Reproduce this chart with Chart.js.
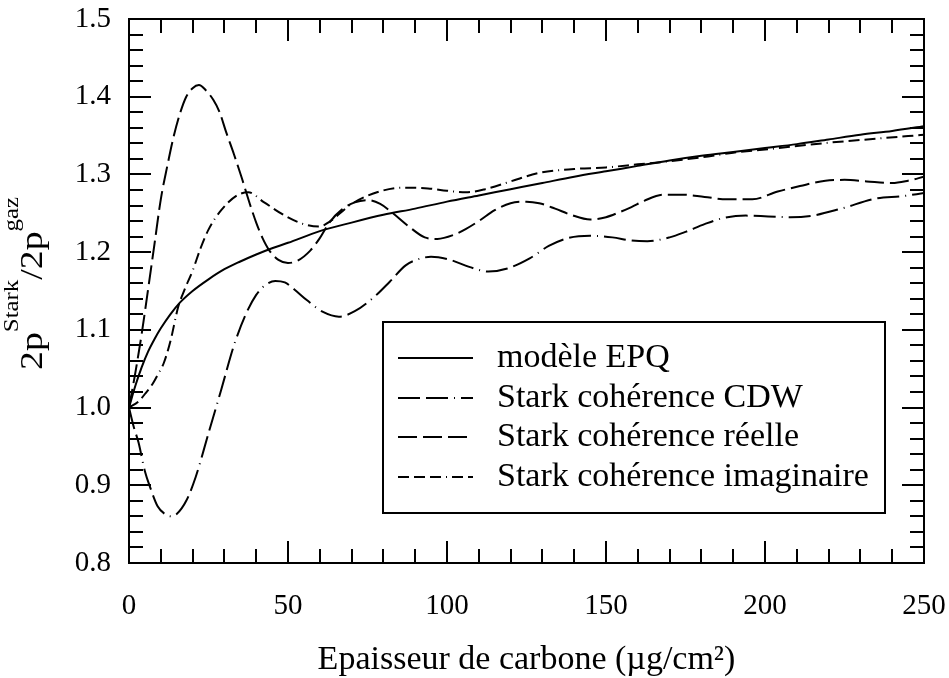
<!DOCTYPE html>
<html>
<head>
<meta charset="utf-8">
<title>2p Stark / 2p gaz</title>
<script src="https://cdn.jsdelivr.net/npm/chart.js@4.4.0/dist/chart.umd.min.js"></script>
<style>
  html, body { margin: 0; padding: 0; background: #fff; }
  canvas { display: block; }
</style>
</head>
<body>
<canvas id="starkChart" width="949" height="678"></canvas>
<script>
const serif = "'Liberation Serif', 'Times New Roman', serif";

// modèle EPQ
const epqX = [0, 2, 4, 6, 8, 10, 13, 16, 20, 25, 30, 35, 40, 45, 50, 60, 70, 80, 90, 100,
  110, 120, 130, 140, 150, 160, 170, 180, 190, 200, 210, 220, 230, 240, 250];
const epqY = [1.000, 1.028, 1.052, 1.072, 1.088, 1.102, 1.120, 1.135, 1.150, 1.165, 1.178, 1.188, 1.197, 1.205, 1.212, 1.227, 1.238, 1.248, 1.256, 1.265,
  1.273, 1.281, 1.289, 1.297, 1.304, 1.311, 1.318, 1.324, 1.329, 1.334, 1.339, 1.345, 1.351, 1.356, 1.362];

// Stark cohérence CDW
const cdwX = [0, 1.5, 3, 5, 6.6, 9, 11.3, 13.2, 15, 18, 21, 25, 29, 33, 36.5, 40, 43, 46, 49, 52,
  56, 61, 66, 71, 77, 82, 87, 91, 95, 101, 107, 113, 119, 126, 132, 138, 145, 152, 158, 163,
  170, 175, 181, 187, 194, 201, 208, 215, 224, 235, 243, 250];
const cdwY = [1.000, 0.975, 0.955, 0.918, 0.898, 0.873, 0.863, 0.860, 0.863, 0.880, 0.911, 0.967, 1.023, 1.080, 1.118, 1.145, 1.158, 1.163, 1.161, 1.152,
  1.138, 1.123, 1.117, 1.124, 1.142, 1.162, 1.183, 1.191, 1.194, 1.190, 1.181, 1.175, 1.179, 1.192, 1.208, 1.218, 1.221, 1.219, 1.215, 1.214,
  1.219, 1.226, 1.236, 1.244, 1.247, 1.246, 1.245, 1.247, 1.256, 1.269, 1.272, 1.276];

// Stark cohérence réelle
const reelX = [0, 2, 4, 6, 8, 10, 12, 14, 16, 18, 20, 22, 24, 26.5, 28.5, 30.5, 33, 35.5, 38, 40,
  42, 44, 47, 50, 53, 57, 60, 63, 67, 71, 75, 79, 83, 88, 93, 97, 102, 106, 110, 115,
  120, 125, 129, 134, 139, 145, 150, 154, 158, 162, 168, 174, 181, 188, 196, 204, 211, 219, 225, 232,
  240, 245, 250];
const reelY = [1.000, 1.045, 1.095, 1.152, 1.210, 1.268, 1.310, 1.348, 1.378, 1.400, 1.411, 1.415, 1.409, 1.396, 1.380, 1.355, 1.326, 1.295, 1.262, 1.238,
  1.218, 1.203, 1.190, 1.186, 1.189, 1.202, 1.218, 1.238, 1.255, 1.264, 1.267, 1.262, 1.250, 1.233, 1.219, 1.217, 1.222, 1.230, 1.240, 1.254,
  1.263, 1.265, 1.263, 1.256, 1.248, 1.242, 1.245, 1.251, 1.258, 1.266, 1.274, 1.274, 1.271, 1.268, 1.268, 1.278, 1.285, 1.292, 1.293, 1.291,
  1.289, 1.292, 1.297];

// Stark cohérence imaginaire
const imagX = [0, 3, 5.5, 7.5, 9, 11, 13, 15.5, 17.5, 20, 22.5, 25, 29, 34, 37.5, 42.5, 49, 55, 60, 63,
  70, 78, 86, 94, 100, 106, 112, 120, 129, 140, 150, 160, 170, 180, 190, 200, 218, 235, 250];
const imagY = [1.000, 1.008, 1.020, 1.031, 1.042, 1.058, 1.085, 1.130, 1.152, 1.176, 1.205, 1.229, 1.254, 1.273, 1.277, 1.264, 1.247, 1.236, 1.233, 1.239,
  1.262, 1.277, 1.283, 1.282, 1.279, 1.277, 1.281, 1.291, 1.302, 1.307, 1.309, 1.313, 1.317, 1.322, 1.328, 1.332, 1.340, 1.346, 1.351];

const xTicks = [0, 50, 100, 150, 200, 250];
const yTicks = [0.8, 0.9, 1.0, 1.1, 1.2, 1.3, 1.4, 1.5];

const toPoints = (xs, ys) => xs.map((x, i) => ({ x: x, y: ys[i] }));

function series(label, xs, ys, dash) {
  return {
    label: label,
    data: toPoints(xs, ys),
    borderColor: '#000',
    borderWidth: 2,
    borderDash: dash,
    borderCapStyle: 'butt',
    pointRadius: 0,
    fill: false,
    cubicInterpolationMode: 'monotone'
  };
}

// inward ticks on all four sides plus the frame
const frameTicks = {
  id: 'frameTicks',
  afterDatasetsDraw(chart) {
    const { ctx, chartArea: a, scales: { x, y } } = chart;
    ctx.save();
    ctx.strokeStyle = '#000';
    ctx.lineWidth = 2;
    ctx.setLineDash([]);
    ctx.beginPath();
    for (let v = 0; v <= 250; v += 10) {
      const px = Math.round(x.getPixelForValue(v));
      const len = v % 50 === 0 ? 22 : 14;
      ctx.moveTo(px, a.bottom); ctx.lineTo(px, a.bottom - len);
      ctx.moveTo(px, a.top); ctx.lineTo(px, a.top + len);
    }
    for (let i = 0; i <= 35; i++) {
      const py = Math.round(y.getPixelForValue(0.8 + i * 0.02));
      const len = i % 5 === 0 ? 22 : 14;
      ctx.moveTo(a.left, py); ctx.lineTo(a.left + len, py);
      ctx.moveTo(a.right, py); ctx.lineTo(a.right - len, py);
    }
    ctx.stroke();
    ctx.strokeRect(a.left, a.top, a.right - a.left, a.bottom - a.top);
    ctx.restore();
  }
};

// boxed legend inside the plot
const legendBox = {
  id: 'legendBox',
  afterDraw(chart) {
    const { ctx } = chart;
    const left = 383, top = 322, right = 885, bottom = 513;
    ctx.save();
    ctx.fillStyle = '#fff';
    ctx.fillRect(left, top, right - left, bottom - top);
    ctx.strokeStyle = '#000';
    ctx.lineWidth = 2;
    ctx.strokeRect(left, top, right - left, bottom - top);
    ctx.font = '34px ' + serif;
    ctx.fillStyle = '#000';
    ctx.textBaseline = 'middle';
    chart.data.datasets.forEach((ds, i) => {
      const cy = 358 + i * 39.7;
      ctx.setLineDash(ds.borderDash || []);
      ctx.lineDashOffset = 0;
      ctx.beginPath();
      ctx.moveTo(398, Math.round(cy));
      ctx.lineTo(473, Math.round(cy));
      ctx.stroke();
      ctx.setLineDash([]);
      ctx.fillText(ds.label, 497, cy);
    });
    ctx.restore();
  }
};

// vertical title with superscripts: 2p^Stark / 2p^gaz
const yTitle = {
  id: 'yTitle',
  afterDraw(chart) {
    const { ctx } = chart;
    const parts = [['2p', 32, 0], ['Stark', 21, -24], ['/2p', 32, 0], ['gaz', 21, -24]];
    ctx.save();
    ctx.fillStyle = '#000';
    ctx.textBaseline = 'alphabetic';
    let total = 0;
    parts.forEach(p => { ctx.font = p[1] + 'px ' + serif; total += ctx.measureText(p[0]).width; });
    ctx.translate(42, 370);
    ctx.rotate(-Math.PI / 2);
    ctx.scale(173 / total, 1);
    let pos = 0;
    parts.forEach(p => {
      ctx.font = p[1] + 'px ' + serif;
      ctx.fillText(p[0], pos, p[2]);
      pos += ctx.measureText(p[0]).width;
    });
    ctx.restore();
  }
};

new Chart(document.getElementById('starkChart'), {
  type: 'line',
  data: {
    datasets: [
      series('modèle EPQ', epqX, epqY, []),
      series('Stark cohérence CDW', cdwX, cdwY, [22, 6, 22, 6, 1, 6]),
      series('Stark cohérence réelle', reelX, reelY, [19, 6]),
      series('Stark cohérence imaginaire', imagX, imagY, [11, 5, 11, 5, 11, 5, 1, 5])
    ]
  },
  options: {
    responsive: false,
    animation: false,
    devicePixelRatio: 1,
    layout: { padding: { top: 19, right: 25, bottom: 0, left: 0 } },
    plugins: {
      legend: { display: false },
      tooltip: { enabled: false }
    },
    scales: {
      x: {
        type: 'linear',
        min: 0,
        max: 250,
        afterBuildTicks: s => { s.ticks = xTicks.map(v => ({ value: v })); },
        afterFit: s => { s.height = 115; s.paddingLeft = 0; s.paddingRight = 0; },
        grid: { display: false, drawTicks: false },
        border: { display: false },
        ticks: {
          color: '#000',
          padding: 26,
          maxRotation: 0,
          font: { family: serif, size: 29 }
        },
        title: {
          display: true,
          text: 'Epaisseur de carbone (µg/cm²)',
          color: '#000',
          font: { family: serif, size: 34, lineHeight: 1 },
          padding: { top: 0, bottom: 1 }
        }
      },
      y: {
        type: 'linear',
        min: 0.8,
        max: 1.5,
        afterBuildTicks: s => { s.ticks = yTicks.map(v => ({ value: v })); },
        afterFit: s => { s.width = 129; s.paddingTop = 0; s.paddingBottom = 0; },
        grid: { display: false, drawTicks: false },
        border: { display: false },
        ticks: {
          color: '#000',
          padding: 18,
          font: { family: serif, size: 29 },
          callback: v => v.toFixed(1)
        }
      }
    }
  },
  plugins: [frameTicks, legendBox, yTitle]
});
</script>
</body>
</html>
